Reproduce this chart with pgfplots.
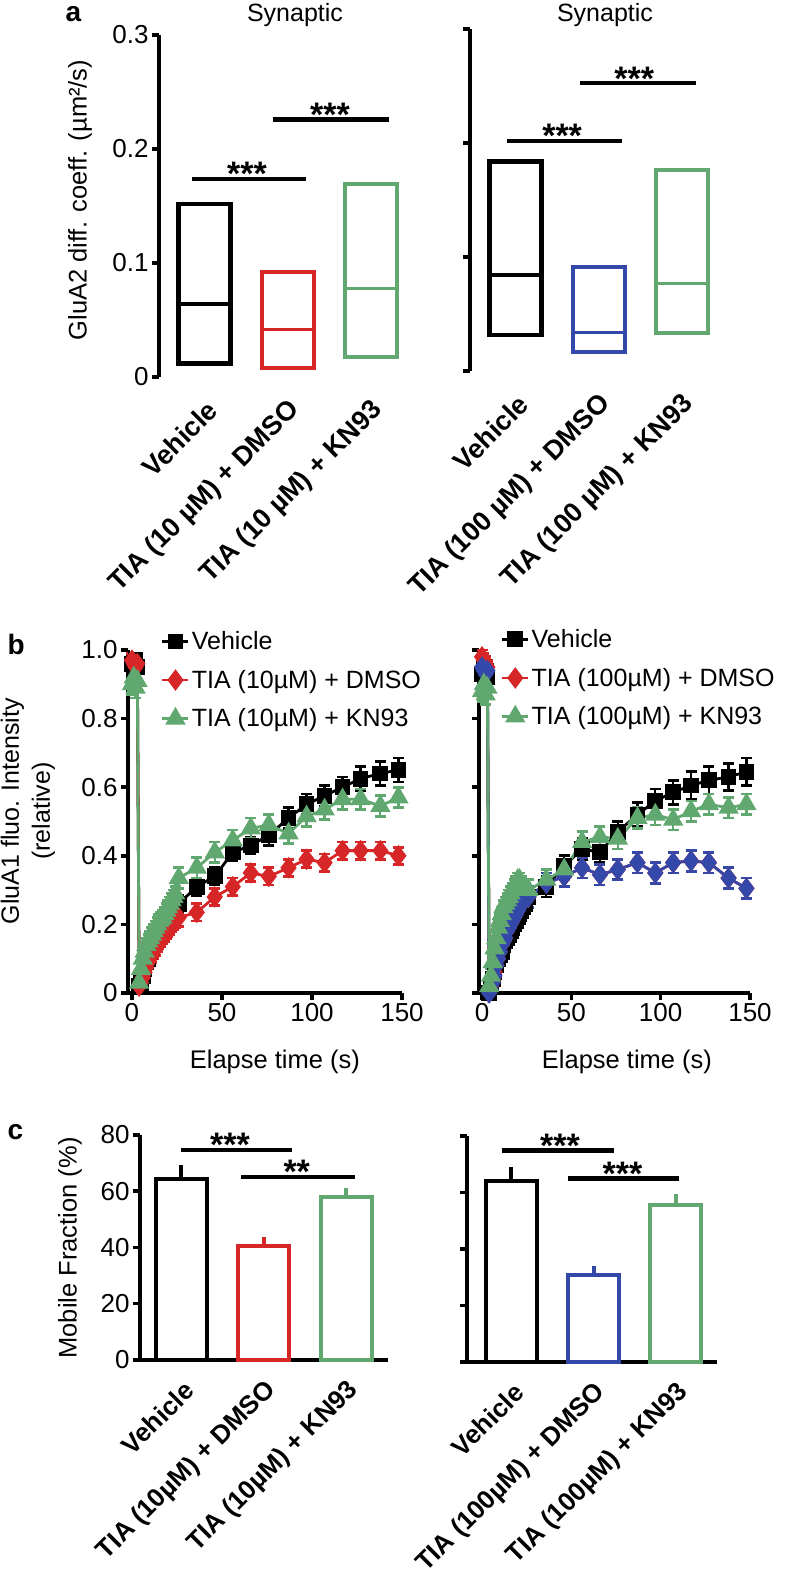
\documentclass[border=0pt]{standalone}
\usepackage{pgfplots}
\pgfplotsset{compat=1.18}
\usepackage{pgfplotstable}
\usepackage{fontspec}
\setmainfont{Liberation Sans}
\definecolor{cred}{RGB}{214,38,40}
\definecolor{cgreen}{RGB}{96,168,112}
\definecolor{cblue}{RGB}{52,72,170}
\newcommand{\fs}[1]{\fontsize{#1}{#1}\selectfont}

% panel b, left group (10 uM)
\pgfplotstableread{
t   bk    bke   rd    rde   gr    gre
0   0.96  0.02  0.97  0.02  0.90  0.03
1   0.95  0.02  0.96  0.02  0.92  0.03
2   0.97  0.02  0.95  0.02  0.89  0.03
3   0.95  0.02  0.96  0.02  0.91  0.03
4   0.02  0.015 0.02  0.015 0.03  0.015
5   0.03  0.02  0.03  0.02  0.07  0.02
6   0.05  0.02  0.045 0.02  0.10  0.02
7   0.07  0.02  0.06  0.02  0.12  0.02
8   0.09  0.02  0.075 0.02  0.14  0.02
9   0.10  0.02  0.09  0.02  0.15  0.02
10  0.12  0.02  0.10  0.02  0.16  0.02
11  0.13  0.02  0.11  0.02  0.17  0.02
12  0.14  0.02  0.12  0.02  0.18  0.02
13  0.15  0.02  0.13  0.02  0.19  0.02
14  0.16  0.02  0.14  0.02  0.20  0.02
15  0.17  0.02  0.15  0.02  0.21  0.02
16  0.18  0.02  0.155 0.02  0.215 0.02
17  0.19  0.02  0.165 0.02  0.22  0.02
18  0.20  0.02  0.17  0.02  0.23  0.02
19  0.21  0.02  0.18  0.02  0.24  0.02
20  0.22  0.02  0.185 0.02  0.25  0.02
21  0.23  0.02  0.19  0.02  0.26  0.02
22  0.24  0.02  0.20  0.02  0.27  0.02
23  0.245 0.02  0.205 0.02  0.28  0.02
24  0.25  0.02  0.21  0.02  0.29  0.02
26  0.26  0.025 0.22  0.025 0.335 0.03
36  0.31  0.025 0.235 0.025 0.365 0.03
46  0.34  0.025 0.28  0.025 0.41  0.03
56  0.41  0.025 0.31  0.025 0.445 0.03
66  0.43  0.025 0.35  0.025 0.48  0.03
76  0.46  0.03  0.34  0.025 0.49  0.03
87  0.51  0.03  0.365 0.025 0.465 0.03
97  0.55  0.03  0.39  0.025 0.515 0.03
107 0.575 0.03  0.38  0.025 0.535 0.03
117 0.60  0.03  0.415 0.025 0.565 0.03
127 0.625 0.035 0.415 0.025 0.565 0.03
138 0.64  0.035 0.415 0.025 0.545 0.03
148 0.65  0.035 0.40  0.025 0.57  0.03
}\tabL

% panel b, right group (100 uM)
\pgfplotstableread{
t   bk    bke   rd    rde   bl    ble   gr    gre
0   0.93  0.02  0.98  0.02  0.95  0.02  0.88  0.03
1   0.95  0.02  0.97  0.02  0.94  0.02  0.90  0.03
2   0.94  0.02  0.96  0.02  0.93  0.02  0.87  0.03
3   0.92  0.02  0.95  0.02  0.94  0.02  0.89  0.03
4   0.00  0.015 0.01  0.015 0.00  0.015 0.02  0.015
5   0.02  0.02  0.02  0.02  0.01  0.02  0.05  0.02
6   0.04  0.02  0.04  0.02  0.03  0.02  0.09  0.02
7   0.06  0.02  0.06  0.02  0.05  0.02  0.13  0.02
8   0.08  0.02  0.08  0.02  0.08  0.02  0.16  0.02
9   0.10  0.02  0.10  0.02  0.10  0.02  0.19  0.02
10  0.11  0.02  0.12  0.02  0.12  0.02  0.21  0.02
11  0.12  0.02  0.14  0.02  0.14  0.02  0.23  0.02
12  0.14  0.02  0.15  0.02  0.15  0.02  0.25  0.02
13  0.15  0.02  0.16  0.02  0.16  0.02  0.26  0.02
14  0.16  0.02  0.18  0.02  0.18  0.02  0.27  0.02
15  0.17  0.02  0.19  0.02  0.19  0.02  0.28  0.02
16  0.18  0.02  0.20  0.02  0.20  0.02  0.29  0.02
17  0.19  0.02  0.21  0.02  0.21  0.02  0.30  0.02
18  0.20  0.02  0.22  0.02  0.22  0.02  0.31  0.02
19  0.21  0.02  0.23  0.02  0.23  0.02  0.32  0.02
20  0.22  0.02  0.24  0.02  0.24  0.02  0.33  0.02
21  0.23  0.02  0.25  0.02  0.25  0.02  0.33  0.02
22  0.24  0.02  0.26  0.02  0.26  0.02  0.32  0.02
23  0.25  0.02  0.27  0.02  0.27  0.02  0.31  0.02
24  0.26  0.02  0.275 0.02  0.275 0.02  0.30  0.02
26  0.28  0.03  0.28  0.03  0.28  0.03  0.30  0.03
36  0.31  0.03  0.32  0.03  0.32  0.03  0.33  0.03
46  0.37  0.03  0.34  0.03  0.34  0.03  0.36  0.03
56  0.42  0.03  0.365 0.03  0.365 0.03  0.44  0.03
66  0.41  0.03  0.345 0.03  0.345 0.03  0.455 0.03
76  0.47  0.03  0.36  0.03  0.36  0.03  0.45  0.03
87  0.52  0.035 0.38  0.03  0.38  0.03  0.51  0.03
97  0.56  0.035 0.35  0.03  0.35  0.03  0.52  0.03
107 0.585 0.035 0.38  0.03  0.38  0.03  0.505 0.03
117 0.605 0.04  0.385 0.03  0.385 0.03  0.53  0.03
127 0.62  0.04  0.38  0.03  0.38  0.03  0.55  0.03
138 0.63  0.04  0.335 0.03  0.335 0.03  0.54  0.03
148 0.645 0.04  0.305 0.03  0.305 0.03  0.55  0.03
}\tabR

\tikzset{stars/.style={font=\bfseries\fs{34}, anchor=base, yshift=-7pt}}
\pgfplotsset{
  common/.style={scale only axis, clip=false, anchor=south west,
    axis line style={line width=4.5pt}, tick style={line width=3.5pt, black},
    major tick length=7pt, tick align=outside,
    ticklabel style={font=\fs{26}}, label style={font=\fs{25.5}},
    axis x line*=bottom, axis y line*=left},
  catlab/.style={xtick={0,1,2}, xtick style={draw=none},
    xticklabel style={xshift=8pt, yshift=-22pt, rotate=45, anchor=east, inner sep=0pt, font=\bfseries\fs{27}}},
  catlabc/.style={xtick={0,1,2}, xtick style={draw=none},
    xticklabel style={xshift=8pt, yshift=-19pt, rotate=45, anchor=east, inner sep=0pt, font=\bfseries\fs{26}}},
  sig/.style={black, line width=4.5pt},
  ebar/.style={error bars/.cd, y dir=both, y explicit, error bar style={line width=2.2pt}, error mark options={rotate=90, line width=2.8pt, mark size=5.5pt}},
  kser/.style={black, line width=2.8pt, mark=square*, mark size=6.5pt, mark options={solid}},
  rser/.style={cred, line width=2.8pt, mark=diamond*, mark size=8.5pt, mark options={solid}},
  bser/.style={cblue, line width=2.8pt, mark=diamond*, mark size=8.5pt, mark options={solid}},
  gser/.style={cgreen, line width=2.8pt, mark=triangle*, mark size=9pt, mark options={solid}},
  legb/.style={legend style={draw=none, fill=none, font=\fs{25}, row sep=15pt, inner sep=0pt, nodes={inner sep=2pt}, cells={anchor=west}},
    legend image code/.code={\draw[mark repeat=2, mark phase=2, ##1] plot coordinates {(0pt,0pt) (13pt,0pt) (26pt,0pt)};}},
}

\begin{document}
\begin{tikzpicture}
\useasboundingbox (0,0) rectangle (785pt,1582pt);

% ---------------- panel a ----------------
\node[font=\bfseries\fs{28}, anchor=base west] at (62pt,1560pt) {a};
\node[font=\fs{25}, anchor=base] at (295pt,1560pt) {Synaptic};
\node[font=\fs{25}, anchor=base] at (605pt,1560pt) {Synaptic};

\begin{axis}[common, catlab, at={(159pt,1205pt)}, width=257.3pt, height=342pt,
  xmin=-0.55, xmax=2.55, ymin=0, ymax=0.3, x axis line style={draw=none},
  xticklabels={Vehicle, TIA (10 µM) + DMSO, TIA (10 µM) + KN93},
  ytick={0,0.1,0.2,0.3}, yticklabels={0,0.1,0.2,0.3},
  ylabel={GluA2 diff. coeff. (µm²/s)},
  ylabel style={at={(axis description cs:-0.307,0.517)}, anchor=center}]
\addplot[black, line width=4.5pt] coordinates {(-0.313,0.012) (0.313,0.012) (0.313,0.1518) (-0.313,0.1518) (-0.313,0.012) (0.313,0.012)};
\addplot[black, line width=4pt] coordinates {(-0.313,0.0638) (0.313,0.0638)};
\addplot[cred, line width=4pt] coordinates {(0.687,0.0076) (1.313,0.0076) (1.313,0.0924) (0.687,0.0924) (0.687,0.0076) (1.313,0.0076)};
\addplot[cred, line width=3pt] coordinates {(0.687,0.042) (1.313,0.042)};
\addplot[cgreen, line width=3.8pt] coordinates {(1.687,0.0178) (2.313,0.0178) (2.313,0.169) (1.687,0.169) (1.687,0.0178) (2.313,0.0178)};
\addplot[cgreen, line width=2.5pt] coordinates {(1.687,0.0778) (2.313,0.0778)};
\addplot[sig] coordinates {(-0.15,0.1737) (1.22,0.1737)};
\addplot[sig] coordinates {(0.82,0.226) (2.22,0.226)};
\node[stars] at (axis cs:0.51,0.1737) {***};
\node[stars] at (axis cs:1.51,0.226) {***};
\end{axis}

\begin{axis}[common, catlab, at={(470pt,1211pt)}, width=257.3pt, height=342pt,
  xmin=-0.55, xmax=2.55, ymin=0, ymax=0.3, x axis line style={draw=none},
  xticklabels={Vehicle, TIA (100 µM) + DMSO, TIA (100 µM) + KN93},
  ytick={0,0.1,0.2,0.3}, yticklabels={}]
\addplot[black, line width=4.5pt] coordinates {(-0.313,0.0316) (0.313,0.0316) (0.313,0.1836) (-0.313,0.1836) (-0.313,0.0316) (0.313,0.0316)};
\addplot[black, line width=4pt] coordinates {(-0.313,0.0842) (0.313,0.0842)};
\addplot[cblue, line width=4pt] coordinates {(0.687,0.0169) (1.313,0.0169) (1.313,0.0915) (0.687,0.0915) (0.687,0.0169) (1.313,0.0169)};
\addplot[cblue, line width=3pt] coordinates {(0.687,0.0336) (1.313,0.0336)};
\addplot[cgreen, line width=3.8pt] coordinates {(1.687,0.0336) (2.313,0.0336) (2.313,0.1763) (1.687,0.1763) (1.687,0.0336) (2.313,0.0336)};
\addplot[cgreen, line width=2.5pt] coordinates {(1.687,0.0769) (2.313,0.0769)};
\addplot[sig] coordinates {(-0.10,0.2018) (1.28,0.2018)};
\addplot[sig] coordinates {(0.78,0.2526) (2.17,0.2526)};
\node[stars] at (axis cs:0.56,0.2018) {***};
\node[stars] at (axis cs:1.43,0.2526) {***};
\end{axis}

% ---------------- panel b ----------------
\node[font=\bfseries\fs{28}, anchor=base west] at (4pt,927pt) {b};

\begin{axis}[common, legb, at={(128pt,589pt)}, width=274pt, height=343pt,
  xmin=-2.2, xmax=150, ymin=0, ymax=1,
  xtick={0,50,100,150}, xticklabels={0,50,100,150},
  ytick={0,0.2,0.4,0.6,0.8,1}, yticklabels={0,0.2,0.4,0.6,0.8,1.0},
  xlabel={Elapse time (s)}, xlabel style={at={(axis description cs:0.536,-0.201)}, anchor=center},
  ylabel={GluA1 fluo. Intensity\\(relative)},
  ylabel style={align=center, font=\fontsize{25}{31}\selectfont, at={(axis description cs:-0.365,0.53)}, anchor=center},
  legend style={at={(axis description cs:0.12,1.06)}, anchor=north west}]
\addplot[kser, ebar] table[x=t, y=bk, y error=bke] {\tabL};
\addplot[rser, ebar] table[x=t, y=rd, y error=rde] {\tabL};
\addplot[gser, ebar] table[x=t, y=gr, y error=gre] {\tabL};
\legend{Vehicle, TIA (10µM) + DMSO, TIA (10µM) + KN93}
\end{axis}

\begin{axis}[common, legb, at={(479pt,589pt)}, width=271pt, height=343pt,
  xmin=-1.7, xmax=150, ymin=0, ymax=1,
  xtick={0,50,100,150}, xticklabels={0,50,100,150},
  ytick={0,0.2,0.4,0.6,0.8,1}, yticklabels={},
  xlabel={Elapse time (s)}, xlabel style={at={(axis description cs:0.546,-0.201)}, anchor=center},
  legend style={at={(axis description cs:0.08,1.066)}, anchor=north west}]
\addplot[kser, ebar] table[x=t, y=bk, y error=bke] {\tabR};
\addplot[rser, ebar] table[x=t, y=rd, y error=rde] {\tabR};
\addplot[forget plot, bser, ebar] table[x=t, y=bl, y error=ble] {\tabR};
\addplot[gser, ebar] table[x=t, y=gr, y error=gre] {\tabR};
\legend{Vehicle, TIA (100µM) + DMSO, TIA (100µM) + KN93}
\end{axis}

% ---------------- panel c ----------------
\node[font=\bfseries\fs{28}, anchor=base west] at (4pt,442pt) {c};

\begin{axis}[common, catlabc, at={(140pt,222pt)}, width=247.5pt, height=225pt,
  xmin=-0.5, xmax=2.5, ymin=0, ymax=80,
  xticklabels={Vehicle, TIA (10µM) + DMSO, TIA (10µM) + KN93},
  ytick={0,20,40,60,80}, yticklabels={0,20,40,60,80},
  ylabel={Mobile Fraction (\%)},
  ylabel style={at={(axis description cs:-0.283,0.498)}, anchor=center}]
\addplot[ybar, bar width=51pt, bar shift=0pt, draw=black, fill=white, line width=4pt,
  error bars/.cd, y dir=plus, y explicit, error mark=none, error bar style={line width=4pt}]
  coordinates {(0,64.3) +- (0,5.0)};
\addplot[ybar, bar width=51pt, bar shift=0pt, draw=cred, fill=white, line width=4pt,
  error bars/.cd, y dir=plus, y explicit, error mark=none, error bar style={line width=4pt}]
  coordinates {(1,40.4) +- (0,3.5)};
\addplot[ybar, bar width=51pt, bar shift=0pt, draw=cgreen, fill=white, line width=4pt,
  error bars/.cd, y dir=plus, y explicit, error mark=none, error bar style={line width=4pt}]
  coordinates {(2,57.9) +- (0,3.1)};
\addplot[sig] coordinates {(0,74.7) (1.34,74.7)};
\addplot[sig] coordinates {(0.73,65.1) (2.1,65.1)};
\node[stars] at (axis cs:0.59,74.7) {***};
\node[stars] at (axis cs:1.4,65.1) {**};
\end{axis}

\begin{axis}[common, catlabc, at={(467pt,220pt)}, width=250pt, height=226pt,
  xmin=-0.54, xmax=2.5, ymin=0, ymax=80,
  xticklabels={Vehicle, TIA (100µM) + DMSO, TIA (100µM) + KN93},
  ytick={0,20,40,60,80}, yticklabels={}]
\addplot[ybar, bar width=51pt, bar shift=0pt, draw=black, fill=white, line width=4pt,
  error bars/.cd, y dir=plus, y explicit, error mark=none, error bar style={line width=4pt}]
  coordinates {(0,64.0) +- (0,5.0)};
\addplot[ybar, bar width=51pt, bar shift=0pt, draw=cblue, fill=white, line width=4pt,
  error bars/.cd, y dir=plus, y explicit, error mark=none, error bar style={line width=4pt}]
  coordinates {(1,30.7) +- (0,3.3)};
\addplot[ybar, bar width=51pt, bar shift=0pt, draw=cgreen, fill=white, line width=4pt,
  error bars/.cd, y dir=plus, y explicit, error mark=none, error bar style={line width=4pt}]
  coordinates {(2,55.4) +- (0,4.2)};
\addplot[sig] coordinates {(-0.12,74.8) (1.25,74.8)};
\addplot[sig] coordinates {(0.69,64.9) (2.04,64.9)};
\node[stars] at (axis cs:0.59,74.8) {***};
\node[stars] at (axis cs:1.35,64.9) {***};
\end{axis}
\end{tikzpicture}
\end{document}
